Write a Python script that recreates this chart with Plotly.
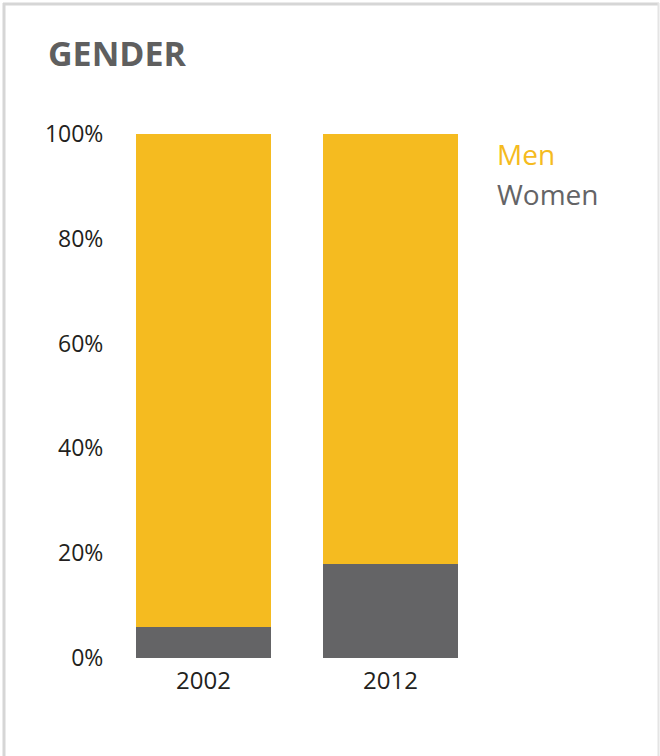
import plotly.graph_objects as go

years = ["2002", "2012"]
women = [6, 18]
men = [94, 82]
y_ticks = [0, 20, 40, 60, 80, 100]
y_tick_labels = ["0%", "20%", "40%", "60%", "80%", "100%"]

YELLOW = "#f5bb20"
GREY = "#646466"
TEXT = "#231f20"

W, H = 660, 756
ML, MR, MT, MB = 110, 176, 134, 98
pw, ph = W - ML - MR, H - MT - MB


def px_x(x):
    return (x - ML) / pw


def px_y(y):
    return (H - MB - y) / ph


fig = go.Figure()
fig.add_trace(go.Bar(x=years, y=women, name="Women", marker_color=GREY,
                     marker_line_width=0, hoverinfo="skip"))
fig.add_trace(go.Bar(x=years, y=men, name="Men", marker_color=YELLOW,
                     marker_line_width=0, hoverinfo="skip"))

font_family = "Open Sans, Noto Sans, sans-serif"

fig.update_layout(
    width=W, height=H,
    margin=dict(l=ML, r=MR, t=MT, b=MB, pad=0),
    barmode="stack",
    bargap=0.273,
    showlegend=False,
    paper_bgcolor="white",
    plot_bgcolor="white",
    font=dict(family=font_family, color=TEXT, size=22),
    xaxis=dict(showgrid=False, zeroline=False, showline=False,
               ticks="outside", ticklen=1, tickcolor="rgba(0,0,0,0)",
               tickfont=dict(size=24, color=TEXT)),
    yaxis=dict(range=[0, 100], tickvals=y_ticks, ticktext=y_tick_labels,
               showgrid=False, zeroline=False, showline=False,
               ticks="outside", ticklen=1, tickcolor="rgba(0,0,0,0)",
               tickfont=dict(size=23, color=TEXT)),
)

# Title
fig.add_annotation(text="<b>GENDER</b>",
                   xref="paper", yref="paper", x=px_x(46), y=px_y(53),
                   xanchor="left", yanchor="middle", showarrow=False,
                   font=dict(size=34, color="#5f5f5f", family=font_family))

# Legend entries
fig.add_annotation(text="Men", xref="paper", yref="paper",
                   x=px_x(495), y=px_y(154), xanchor="left", yanchor="middle",
                   showarrow=False, font=dict(size=28, color=YELLOW, family=font_family))
fig.add_annotation(text="Women", xref="paper", yref="paper",
                   x=px_x(495), y=px_y(194), xanchor="left", yanchor="middle",
                   showarrow=False, font=dict(size=28, color=GREY, family=font_family))

# Panel frame (top, left, right edges)
frame = "#d6d6d6"
fig.add_shape(type="line", xref="paper", yref="paper",
              x0=px_x(3), x1=px_x(659), y0=px_y(4), y1=px_y(4),
              line=dict(color=frame, width=3))
fig.add_shape(type="line", xref="paper", yref="paper",
              x0=px_x(4), x1=px_x(4), y0=px_y(3), y1=px_y(760),
              line=dict(color=frame, width=3))
fig.add_shape(type="line", xref="paper", yref="paper",
              x0=px_x(658.5), x1=px_x(658.5), y0=px_y(3), y1=px_y(760),
              line=dict(color="#e4e4e4", width=2))

fig.write_html("out.html")
